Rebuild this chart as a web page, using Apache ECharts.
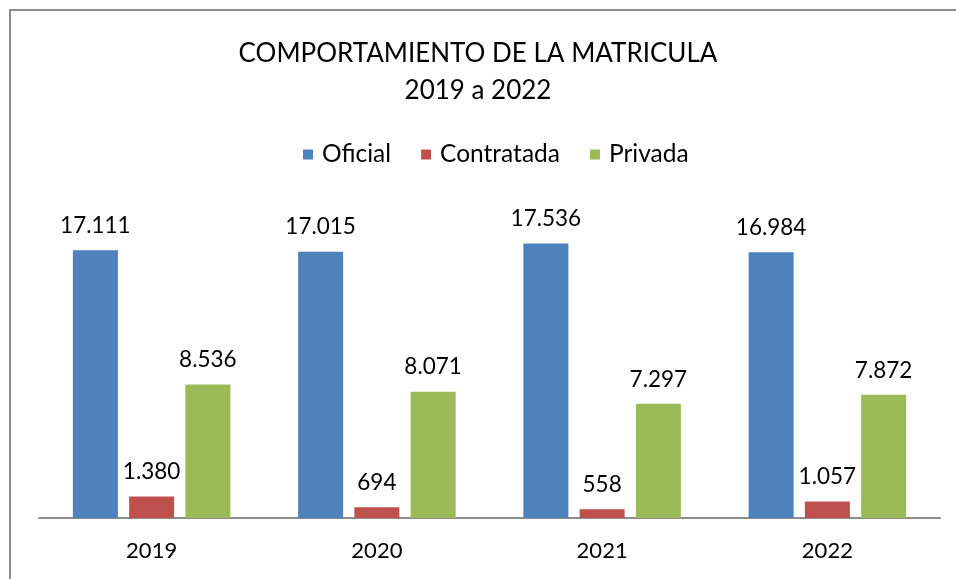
<!DOCTYPE html>
<html>
<head>
<meta charset="utf-8">
<script src="https://cdn.jsdelivr.net/npm/echarts@6/dist/echarts.min.js"></script>
<style>
html, body { margin: 0; padding: 0; background: #fff; }
#chart { width: 956px; height: 579px; }
</style>
</head>
<body>
<div id="chart"></div>
<script>
var years = ['2019', '2020', '2021', '2022']
var oficial = [17111, 17015, 17536, 16984]
var contratada = [1380, 694, 558, 1057]
var privada = [8536, 8071, 7297, 7872]

var font = 'Lato, "Open Sans", sans-serif'
var chart = echarts.init(document.getElementById('chart'))

function fmt (p) {
  return String(p.value).replace(/\B(?=(\d{3})+(?!\d))/g, '.')
}

var labelStyle = {
  show: true,
  position: 'top',
  distance: 13,
  formatter: fmt,
  color: '#000',
  fontSize: 22.5,
  fontFamily: font
}

var option = {
  animation: false,
  graphic: [{
    type: 'rect',
    shape: { x: 10, y: 10, width: 960, height: 600 },
    style: { fill: 'none', stroke: '#8c8c8c', lineWidth: 2 }
  }],
  title: {
    text: 'COMPORTAMIENTO DE LA MATRICULA\n2019 a 2022',
    left: 'center',
    top: 30,
    textStyle: {
      color: '#000',
      fontSize: 26,
      fontWeight: 'normal',
      fontFamily: font,
      lineHeight: 37
    }
  },
  legend: {
    top: 137,
    left: 298,
    itemWidth: 10,
    itemHeight: 10,
    itemGap: 30,
    icon: 'rect',
    textStyle: { color: '#000', fontSize: 24.5, fontFamily: font, padding: [0, 0, 0, 4] },
    data: ['Oficial', 'Contratada', 'Privada']
  },
  grid: { left: 39, right: 16, top: 205, bottom: 61 },
  xAxis: {
    type: 'category',
    data: years,
    axisLine: { lineStyle: { color: '#8c8c8c', width: 2 } },
    axisTick: { show: false },
    axisLabel: { color: '#000', fontSize: 22, fontFamily: font, margin: 22 }
  },
  yAxis: {
    type: 'value',
    min: 0,
    max: 20000,
    show: false,
    splitLine: { show: false }
  },
  series: [
    { name: 'Oficial', type: 'bar', data: oficial, barWidth: 45, barGap: '25%', itemStyle: { color: '#4f81bd' }, label: labelStyle },
    { name: 'Contratada', type: 'bar', data: contratada, barWidth: 45, barGap: '25%', itemStyle: { color: '#c0504d' }, label: labelStyle },
    { name: 'Privada', type: 'bar', data: privada, barWidth: 45, barGap: '25%', itemStyle: { color: '#9bbb59' }, label: labelStyle }
  ]
}

chart.setOption(option)
</script>
</body>
</html>
